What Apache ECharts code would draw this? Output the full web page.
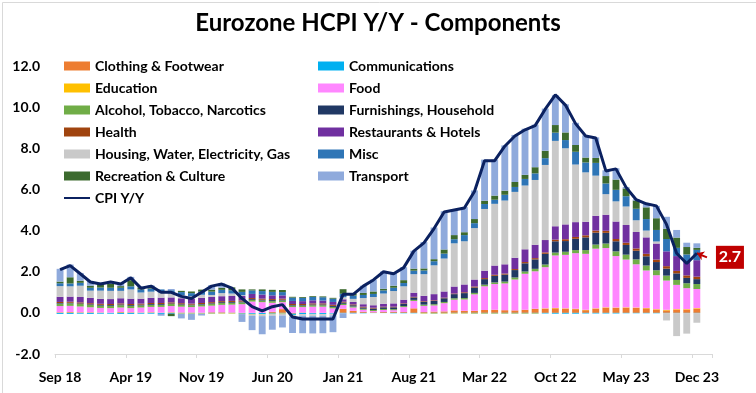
<!DOCTYPE html>
<html>
<head>
<meta charset="utf-8">
<script src="https://cdn.jsdelivr.net/npm/echarts@6/dist/echarts.min.js"></script>
<style>
html,body{margin:0;padding:0;background:#fff;}
#chart{width:756px;height:393px;}
</style>
</head>
<body>
<div id="chart"></div>
<script>
// Categories: Sep 18 .. Dec 23 (plus one empty slot at the end)
const months = ['Jan','Feb','Mar','Apr','May','Jun','Jul','Aug','Sep','Oct','Nov','Dec'];
const categories = [];
for (let y = 18; y <= 23; y++) {
  for (let m = 0; m < 12; m++) {
    if (y === 18 && m < 8) continue;
    categories.push(months[m] + ' ' + y);
  }
}
categories.push('');

const clothing = [0.02,0.03,0.02,0.02, 0.01,0.00,0.03,0.02,0.01,0.02,0.00,0.02,0.02,0.02,0.01,0.03,
  0.03,0.02,0.00,-0.02,-0.01,0.05,0.18,-0.04,0.02,-0.02,-0.01,0.00,
  0.20,0.10,0.05,0.03,0.04,0.05,0.04,0.22,0.04,0.06,0.07,0.12,
  0.10,0.10,0.14,0.15,0.13,0.12,0.15,0.20,0.20,0.22,0.20,0.18,
  0.13,0.20,0.25,0.24,0.25,0.24,0.22,0.16,0.12,0.15,0.15,0.20];
const communications = [-0.05,-0.05,-0.04,-0.05, -0.04,-0.04,-0.05,-0.05,-0.04,-0.04,-0.05,-0.04,-0.03,-0.03,-0.03,-0.03,
  -0.02,-0.02,-0.04,-0.05,-0.05,-0.04,-0.03,-0.06,-0.06,-0.05,-0.05,-0.04,
  -0.02,-0.02,-0.02,-0.01,-0.01,-0.02,-0.02,-0.02,-0.02,-0.03,-0.02,-0.02,
  -0.02,-0.03,-0.03,-0.03,-0.03,-0.03,-0.03,-0.03,-0.03,-0.04,-0.04,-0.04,
  -0.03,-0.03,-0.03,-0.03,-0.02,-0.02,-0.02,-0.02,-0.01,-0.01,-0.01,-0.01];
const education = [0.01,0.01,0.01,0.01, 0.01,0.01,0.01,0.01,0.01,0.01,0.01,0.01,-0.02,-0.02,-0.02,-0.02,
  -0.02,-0.02,-0.02,-0.02,-0.02,-0.02,-0.02,-0.02,0.00,0.00,0.00,0.00,
  0.00,0.00,0.00,0.00,0.00,0.00,0.00,0.00,-0.02,-0.02,-0.02,-0.02,
  -0.02,-0.02,-0.02,-0.02,-0.02,-0.02,-0.02,-0.02,0.02,0.02,0.02,0.02,
  0.02,0.02,0.02,0.02,0.02,0.02,0.02,0.02,0.03,0.03,0.03,0.03];
const food = [0.30,0.30,0.28,0.24, 0.22,0.22,0.22,0.20,0.24,0.26,0.28,0.30,0.28,0.26,0.30,0.32,
  0.36,0.38,0.42,0.55,0.52,0.44,0.34,0.28,0.26,0.30,0.30,0.22,
  0.18,0.16,0.10,0.06,0.10,0.08,0.24,0.36,0.30,0.30,0.40,0.52,
  0.55,0.80,1.15,1.25,1.30,1.50,1.75,1.82,2.00,2.55,2.60,2.70,
  2.72,2.90,2.88,2.50,2.32,2.10,1.82,1.65,1.42,1.18,1.02,0.93];
const alcohol = [0.12,0.12,0.12,0.12, 0.11,0.11,0.11,0.11,0.10,0.10,0.10,0.10,0.09,0.09,0.09,0.09,
  0.09,0.09,0.09,0.08,0.08,0.08,0.08,0.07,0.07,0.07,0.07,0.07,
  0.06,0.05,0.05,0.05,0.05,0.05,0.05,0.05,0.06,0.06,0.06,0.07,
  0.07,0.07,0.08,0.08,0.09,0.10,0.11,0.12,0.13,0.14,0.15,0.15,
  0.18,0.20,0.22,0.23,0.24,0.24,0.24,0.24,0.24,0.24,0.24,0.24];
const furnishings = [0.03,0.03,0.03,0.03, 0.04,0.04,0.04,0.04,0.04,0.04,0.04,0.03,0.03,0.03,0.03,0.03,
  0.04,0.04,0.04,0.04,0.04,0.05,0.04,0.03,0.03,0.04,0.04,0.05,
  0.06,0.06,0.06,0.07,0.08,0.09,0.10,0.12,0.14,0.16,0.18,0.20,
  0.24,0.26,0.27,0.32,0.34,0.36,0.40,0.46,0.52,0.55,0.52,0.55,
  0.62,0.58,0.52,0.49,0.47,0.42,0.45,0.40,0.34,0.32,0.26,0.24];
const health = [0.05,0.05,0.05,0.05, 0.05,0.05,0.05,0.05,0.05,0.05,0.05,0.05,0.05,0.05,0.05,0.05,
  0.05,0.05,0.05,0.05,0.05,0.05,0.05,0.05,0.05,0.05,0.05,0.05,
  0.04,0.04,0.04,0.04,0.03,0.03,0.03,0.03,0.03,0.03,0.03,0.03,
  0.04,0.05,0.05,0.05,0.05,0.05,0.06,0.06,0.07,0.08,0.09,0.09,
  0.10,0.10,0.10,0.11,0.11,0.11,0.12,0.12,0.12,0.12,0.12,0.12];
const restaurants = [0.25,0.25,0.26,0.26, 0.24,0.24,0.25,0.26,0.24,0.25,0.26,0.24,0.24,0.24,0.25,0.25,
  0.24,0.24,0.22,0.20,0.20,0.18,0.16,0.15,0.14,0.15,0.14,0.14,
  0.12,0.12,0.12,0.12,0.14,0.16,0.18,0.20,0.26,0.30,0.30,0.34,
  0.38,0.34,0.36,0.45,0.45,0.55,0.62,0.65,0.60,0.65,0.72,0.72,
  0.66,0.72,0.78,0.85,0.86,0.80,0.80,0.78,0.72,0.72,0.66,0.80];
const housing = [0.52,0.50,0.55,0.35, 0.40,0.40,0.36,0.45,0.30,0.30,0.25,0.20,0.15,0.12,0.15,0.10,
  0.15,0.12,0.04,-0.05,-0.08,-0.08,-0.08,-0.08,-0.08,-0.08,-0.08,-0.08,
  0.10,0.15,0.30,0.40,0.50,0.60,0.65,0.90,1.05,1.40,1.60,2.10,
  2.10,2.50,3.00,3.00,3.10,3.20,3.10,3.15,3.65,4.15,3.70,2.80,
  2.40,1.95,1.00,0.98,0.90,0.57,0.33,0.10,-0.36,-1.12,-1.00,-0.47];
const misc = [0.14,0.14,0.14,0.14, 0.15,0.15,0.15,0.15,0.15,0.15,0.15,0.15,0.15,0.15,0.15,0.16,
  0.16,0.16,0.16,0.17,0.17,0.17,0.16,0.16,0.16,0.16,0.16,0.16,
  0.17,0.16,0.15,0.15,0.15,0.16,0.16,0.17,0.18,0.20,0.24,0.20,
  0.30,0.24,0.24,0.20,0.28,0.24,0.32,0.32,0.33,0.40,0.40,0.62,
  0.48,0.62,0.52,0.56,0.50,0.56,0.56,0.56,0.60,0.40,0.36,0.50];
const recreation = [0.08,0.30,0.10,0.10, 0.22,0.20,0.08,0.30,0.10,0.12,0.00,-0.12,0.06,0.08,0.10,0.10,
  0.10,0.14,0.12,0.05,0.08,0.10,0.10,0.04,0.04,0.04,0.04,0.04,
  0.22,0.10,0.10,0.12,0.08,0.10,0.14,0.10,0.10,0.10,0.20,0.20,
  0.14,0.20,0.16,0.20,0.20,0.24,0.20,0.30,0.36,0.37,0.37,0.33,
  0.24,0.24,0.36,0.50,0.38,0.40,0.57,0.57,0.50,0.50,0.36,0.10];
const transport = [0.62,0.62,0.38,0.23, 0.02,0.12,0.15,0.16,0.03,0.04,-0.09,0.06,-0.22,-0.29,-0.08,0.22,
  0.22,0.00,-0.38,-0.70,-0.88,-0.68,-0.58,-0.78,-0.85,-0.85,-0.85,-0.82,
  -0.23,-0.02,0.35,0.57,0.84,0.60,0.63,0.87,1.28,1.54,1.86,1.26,
  1.22,1.39,2.00,1.75,2.20,2.29,2.24,2.07,2.05,1.45,1.37,1.08,
  1.08,1.00,0.28,0.55,0.07,0.06,0.19,0.60,0.58,0.37,0.21,0.22];
const cpi = [2.1,2.3,1.9,1.5, 1.4,1.5,1.4,1.7,1.2,1.3,1.0,1.0,0.8,0.7,1.0,1.3,
  1.4,1.2,0.7,0.3,0.1,0.3,0.4,-0.2,-0.3,-0.3,-0.3,-0.3,
  0.9,0.9,1.3,1.6,2.0,1.9,2.2,3.0,3.4,4.1,4.9,5.0,
  5.1,5.9,7.4,7.4,8.1,8.6,8.9,9.1,9.9,10.6,10.1,9.2,
  8.6,8.5,6.9,7.0,6.1,5.5,5.3,5.2,4.3,2.9,2.4,2.9];
const yTicks = [-2, 0, 2, 4, 6, 8, 10, 12];
const annotValue = 2.7;

const barSeries = [
  ['Clothing & Footwear', clothing, '#ED7D31'],
  ['Communications', communications, '#00B0F0'],
  ['Education', education, '#FFC000'],
  ['Food', food, '#FF87FF'],
  ['Alcohol, Tobacco, Narcotics', alcohol, '#70AD47'],
  ['Furnishings, Household', furnishings, '#203864'],
  ['Health', health, '#A0440F'],
  ['Restaurants & Hotels', restaurants, '#7030A0'],
  ['Housing, Water, Electricity, Gas', housing, '#C9C9C9'],
  ['Misc', misc, '#2E75B6'],
  ['Recreation & Culture', recreation, '#3C6A2E'],
  ['Transport', transport, '#8FAADC']
];

const FONT = 'Lato';
const series = barSeries.map(([name, data, color]) => ({
  name, type: 'bar', stack: 'total', data, barCategoryGap: '32%',
  itemStyle: { color }, emphasis: { disabled: true }
}));
const lastIdx = cpi.length - 1;
series.push({
  name: 'CPI Y/Y', type: 'line', data: cpi, symbol: 'none', z: 5,
  lineStyle: { color: '#0B2160', width: 3 }, itemStyle: { color: '#0B2160' },
  markLine: {
    silent: true, symbol: ['arrow', 'none'], symbolSize: 7, animation: false,
    lineStyle: { color: '#C00000', width: 2, type: 'solid' },
    label: { show: false },
    data: [[{ coord: [lastIdx, cpi[lastIdx]] }, { coord: [lastIdx + 1, annotValue] }]]
  },
  markPoint: {
    silent: true, symbol: 'rect', symbolSize: [28, 23], symbolOffset: [23, 0],
    itemStyle: { color: '#C00000' },
    label: { show: true, position: 'inside', formatter: annotValue.toFixed(1),
      color: '#fff', fontWeight: 'bold', fontSize: 16, fontFamily: FONT },
    data: [{ coord: [lastIdx + 1, annotValue] }]
  }
});

const legendBase = {
  orient: 'vertical', itemWidth: 26, itemHeight: 9, itemGap: 8, icon: 'rect', padding: 0,
  textStyle: { fontFamily: FONT, fontWeight: 'bold', fontSize: 14, color: '#000', lineHeight: 14 },
  selectedMode: false
};

const chart = echarts.init(document.getElementById('chart'), null, { renderer: 'canvas' });
chart.setOption({
  animation: false,
  backgroundColor: '#fff',
  textStyle: { fontFamily: FONT },
  title: {
    text: 'Eurozone HCPI Y/Y - Components', left: 'center', top: 6,
    textStyle: { fontFamily: FONT, fontWeight: 'bold', fontSize: 24, color: '#000' }
  },
  legend: [
    Object.assign({}, legendBase, { left: 64, top: 59,
      data: ['Clothing & Footwear', 'Education', 'Alcohol, Tobacco, Narcotics', 'Health',
             'Housing, Water, Electricity, Gas', 'Recreation & Culture',
             { name: 'CPI Y/Y', icon: 'path://M0,4 L26,4 L26,6 L0,6 Z' }] }),
    Object.assign({}, legendBase, { left: 318, top: 59,
      data: ['Communications', 'Food', 'Furnishings, Household', 'Restaurants & Hotels', 'Misc', 'Transport'] })
  ],
  grid: { left: 55, right: 44, top: 66, bottom: 39 },
  xAxis: [
    { type: 'category', data: categories, position: 'bottom',
      axisLine: { show: false }, axisTick: { show: false },
      axisLabel: { interval: 6, fontFamily: FONT, fontWeight: 'bold', fontSize: 14, color: '#000', margin: 16 } },
    { type: 'category', data: categories, position: 'bottom',
      axisLine: { show: true, onZero: true, lineStyle: { color: '#D9D9D9', width: 1 } },
      axisTick: { show: true, interval: 6, length: 4, lineStyle: { color: '#D9D9D9' } },
      axisLabel: { show: false } }
  ],
  yAxis: {
    type: 'value', min: yTicks[0], max: yTicks[yTicks.length - 1], interval: 2,
    splitLine: { show: false }, axisLine: { show: false }, axisTick: { show: false },
    axisLabel: { formatter: v => v.toFixed(1), fontFamily: FONT, fontWeight: 'bold', fontSize: 14, color: '#000', margin: 15 }
  },
  graphic: [{
    type: 'rect', left: 0, top: 0, silent: true,
    shape: { x: 0.5, y: 0.5, width: 755, height: 392 },
    style: { fill: 'none', stroke: '#D9D9D9', lineWidth: 1 }
  }],
  series
});
</script>
</body>
</html>
